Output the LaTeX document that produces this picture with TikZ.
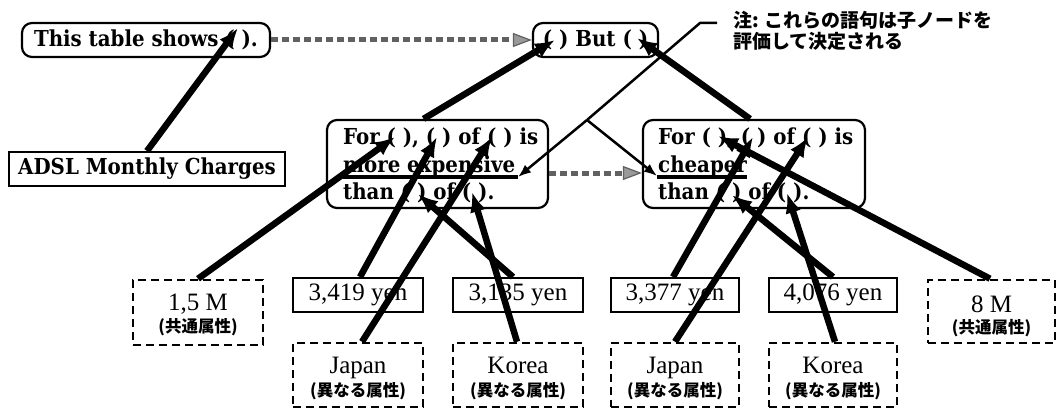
\documentclass[tikz,border=0pt]{standalone}
\usepackage{fontspec}
\setmainfont{DejaVu Serif Condensed}
\newfontfamily\tms{Liberation Serif}
\newfontfamily\cjk{Noto Sans CJK JP}
\usetikzlibrary{arrows.meta,calc}
\begin{document}
\begin{tikzpicture}[x=1pt,y=-1pt,
  rbox/.style={draw, line width=2.2pt, rounded corners=10pt, inner sep=0pt},
  sbox/.style={draw, line width=2pt, inner sep=0pt},
  dbox/.style={draw, line width=2.5pt, dash pattern=on 8pt off 5pt, inner sep=0pt},
  big/.style={font=\bfseries\fontsize{22}{27}\selectfont},
  tm/.style={font=\tms\fontsize{25}{28}\selectfont, inner sep=0pt},
  jp/.style={font=\cjk\bfseries\fontsize{16.5}{20}\selectfont, inner sep=0pt},
  notetext/.style={font=\cjk\bfseries\fontsize{19}{22}\selectfont, inner sep=0pt},
  heavy/.style={line width=6.5pt, -{Latex[length=20pt,width=16pt]}},
  thinarrow/.style={line width=2.5pt, -{Latex[length=13pt,width=10pt]}},
  grayarrow/.style={line width=5pt, draw=black!62, dash pattern=on 7pt off 4pt,
     -{Triangle[length=19pt,width=14pt,fill=black!40,line width=1.2pt]}},
  uline/.style={line width=4pt}]
\useasboundingbox (0,0) rectangle (1057,409);

% top row
\node[rbox, big, minimum width=248pt, minimum height=34pt] (top) at (146,40) {This table shows ( ).};
\node[rbox, big, minimum width=125pt, minimum height=34pt] (but) at (595.5,40) {( ) But ( )};
\node[sbox, big, minimum width=276pt, minimum height=34pt] (adsl) at (147,169) {ADSL Monthly Charges};

% middle boxes
\node[rbox, minimum width=221pt, minimum height=88pt] (lmid) at (437.5,164) {};
\node[rbox, minimum width=222pt, minimum height=88pt] (rmid) at (754,164) {};
\node[big, inner sep=0pt, anchor=base west] (l1) at (343,145) {For ( ), ( ) of ( ) is};
\node[big, inner sep=0pt, anchor=base west] (l2) at (343,172) {more expensive};
\node[big, inner sep=0pt, anchor=base west] (l3) at (343,199) {than ( ) of ( ).};
\node[big, inner sep=0pt, anchor=base west] (r1) at (658,145) {For ( ), ( ) of ( ) is};
\node[big, inner sep=0pt, anchor=base west] (r2) at (658,172) {cheaper};
\node[big, inner sep=0pt, anchor=base west] (r3) at (658,199) {than ( ) of ( ).};
\coordinate (lul) at (518,177);
\draw[uline] (343,177) -- (lul);
\draw[uline] (657,177) -- (747,177);

% bottom row
\node[dbox, minimum width=130pt, minimum height=65pt] (m15) at (198,312.5) {};
\node[tm, anchor=base] (m15t) at (198,310) {1,5 M};
\node[jp] (m15j) at (198,327) {(共通属性)};
\node[sbox, tm, minimum width=130pt, minimum height=34pt] (y3419) at (358,295) {3,419 yen};
\node[sbox, tm, minimum width=130pt, minimum height=34pt] (y3135) at (518,295) {3,135 yen};
\node[sbox, tm, minimum width=128pt, minimum height=34pt] (y3377) at (675,295) {3,377 yen};
\node[sbox, tm, minimum width=128pt, minimum height=34pt] (y4076) at (833,295) {4,076 yen};
\node[dbox, minimum width=127pt, minimum height=63pt] (m8) at (991.5,311.5) {};
\node[tm, anchor=base] (m8t) at (991.5,312) {8 M};
\node[jp] (m8j) at (991.5,328.5) {(共通属性)};

\node[dbox, minimum width=130pt, minimum height=64pt] (jp1) at (358,375) {};
\node[tm, anchor=base] (jp1t) at (358,373) {Japan};
\node[jp] (jp1j) at (358,391) {(異なる属性)};
\node[dbox, minimum width=130pt, minimum height=64pt] (kr1) at (518,375) {};
\node[tm, anchor=base] (kr1t) at (518,373) {Korea};
\node[jp] (kr1j) at (518,391) {(異なる属性)};
\node[dbox, minimum width=128pt, minimum height=64pt] (jp2) at (675,375) {};
\node[tm, anchor=base] (jp2t) at (675,373) {Japan};
\node[jp] (jp2j) at (675,391) {(異なる属性)};
\node[dbox, minimum width=128pt, minimum height=64pt] (kr2) at (833,375) {};
\node[tm, anchor=base] (kr2t) at (833,373) {Korea};
\node[jp] (kr2j) at (833,391) {(異なる属性)};

% note
\node[notetext, anchor=base west] (n1) at (733,28) {注: これらの語句は子ノードを};
\node[notetext, anchor=base west] (n2) at (733,49) {評価して決定される};

% arrow targets
\coordinate (tTop) at (238,28);
\coordinate (tBut1) at (555,40);
\coordinate (tBut2) at (637,38);
\coordinate (tL1) at (395,137);
\coordinate (tL2) at (437,137);
\coordinate (tL3) at (492,137);
\coordinate (tL4) at (418,194);
\coordinate (tL5) at (472,192);
\coordinate (tR1) at (718,136);
\coordinate (tR2) at (753,137);
\coordinate (tR3) at (808,137);
\coordinate (tR4) at (732,195);
\coordinate (tR5) at (787,193);
\coordinate (ne) at (717,23);
\coordinate (nb) at (700,23);
\coordinate (ns) at (587,120);
\coordinate (rul) at (657,176);

% gray dotted arrows
\draw[grayarrow] (top.east) -- (but.west);
\draw[grayarrow] ([yshift=-9pt]lmid.east) -- ([yshift=-9pt]rmid.west);

% heavy arrows
\draw[heavy] (adsl.north) -- (tTop);
\draw[heavy] ([xshift=-14pt]lmid.north) -- (tBut1);
\draw[heavy] ([xshift=-4pt]rmid.north) -- (tBut2);
\draw[heavy] (m15.north) -- (tL1);
\draw[heavy] ([xshift=2pt]y3419.north) -- (tL2);
\draw[heavy] ([xshift=4pt]jp1.north) -- (tL3);
\draw[heavy] ([xshift=-5pt]y3135.north) -- (tL4);
\draw[heavy] ([xshift=-1pt]kr1.north) -- (tL5);
\draw[heavy] ([xshift=-1.5pt]m8.north) -- (tR1);
\draw[heavy] ([xshift=-2pt]y3377.north) -- (tR2);
\draw[heavy] (jp2.north) -- (tR3);
\draw[heavy] (y4076.north) -- (tR4);
\draw[heavy] ([xshift=2pt]kr2.north) -- (tR5);

% note arrows
\draw[line width=2.5pt] (ne) -- (nb) -- (ns);
\draw[thinarrow] (ns) -- (lul);
\draw[thinarrow] (ns) -- (rul);
\end{tikzpicture}
\end{document}
